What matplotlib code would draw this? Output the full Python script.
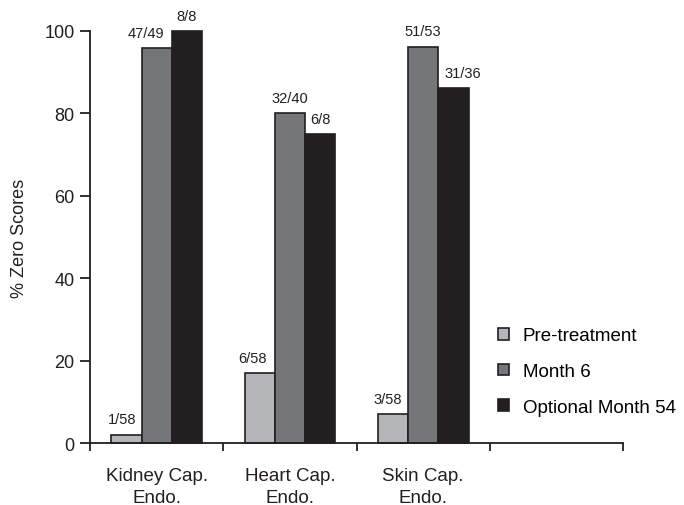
import numpy as np
import matplotlib
matplotlib.use('Agg')
import matplotlib.pyplot as plt

# ---- data ----
categories = ['Kidney Cap.\nEndo.', 'Heart Cap.\nEndo.', 'Skin Cap.\nEndo.']
series = ['Pre-treatment', 'Month 6', 'Optional Month 54']
pre_vals = [2, 17, 7]
m6_vals = [95.9, 80, 96.2]
m54_vals = [100, 75, 86.1]
pre_labels = ['1/58', '6/58', '3/58']
m6_labels = ['47/49', '32/40', '51/53']
m54_labels = ['8/8', '6/8', '31/36']
yticks = [0, 20, 40, 60, 80, 100]

colors = ['#b5b6b9', '#75767a', '#231f20']
dark = '#231f20'

# small horizontal nudges (points) so neighbouring labels don't collide
nudge = [[-3, -5, -4], [-8, 0, 0], [0, 0, 7]]

plt.rcParams['font.family'] = ['Liberation Sans', 'DejaVu Sans']

fig = plt.figure(figsize=(6.84, 5.06), dpi=100)
ax = fig.add_axes([0.1316, 0.1225, 0.911 - 0.1316, 0.9368 - 0.1225])

x = np.arange(len(categories)) + 0.5
w = 0.227
all_vals = [pre_vals, m6_vals, m54_vals]
all_labels = [pre_labels, m6_labels, m54_labels]

for i, (vals, labs) in enumerate(zip(all_vals, all_labels)):
    xs = x + (i - 1) * w
    ax.bar(xs, vals, width=w, color=colors[i], edgecolor=dark,
           linewidth=1.2, label=series[i], zorder=2, clip_on=False)
    for j, (xi, v, t) in enumerate(zip(xs, vals, labs)):
        ax.annotate(t, (xi, v), xytext=(nudge[i][j], 6), textcoords='offset points',
                    ha='center', va='bottom', fontsize=10.5, color=dark,
                    annotation_clip=False)

ax.set_xlim(0, 4)
ax.set_ylim(0, 100)
ax.set_yticks(yticks)
ax.set_xticks([0, 1, 2, 3, 4])
ax.set_xticklabels([])
ax.set_xticks(x, minor=True)
ax.set_xticklabels(categories, minor=True, fontsize=13.5, color=dark,
                   linespacing=1.4)
ax.tick_params(axis='x', which='minor', length=0, pad=17)
ax.tick_params(axis='x', which='major', length=6, width=1.3, color=dark)
ax.tick_params(axis='y', length=7, width=1.3, color=dark, labelsize=13,
               labelcolor=dark, pad=4)

for s in ['top', 'right']:
    ax.spines[s].set_visible(False)
for s in ['left', 'bottom']:
    ax.spines[s].set_linewidth(1.3)
    ax.spines[s].set_color(dark)

ax.set_ylabel('% Zero Scores', fontsize=13, color=dark, labelpad=12)

ax.legend(frameon=False, fontsize=13.5, handlelength=0.6, handleheight=0.6,
          labelspacing=1.0, handletextpad=0.75,
          loc='lower left', bbox_to_anchor=(0.733, 0.025))

fig.savefig('out.png', dpi=100)
